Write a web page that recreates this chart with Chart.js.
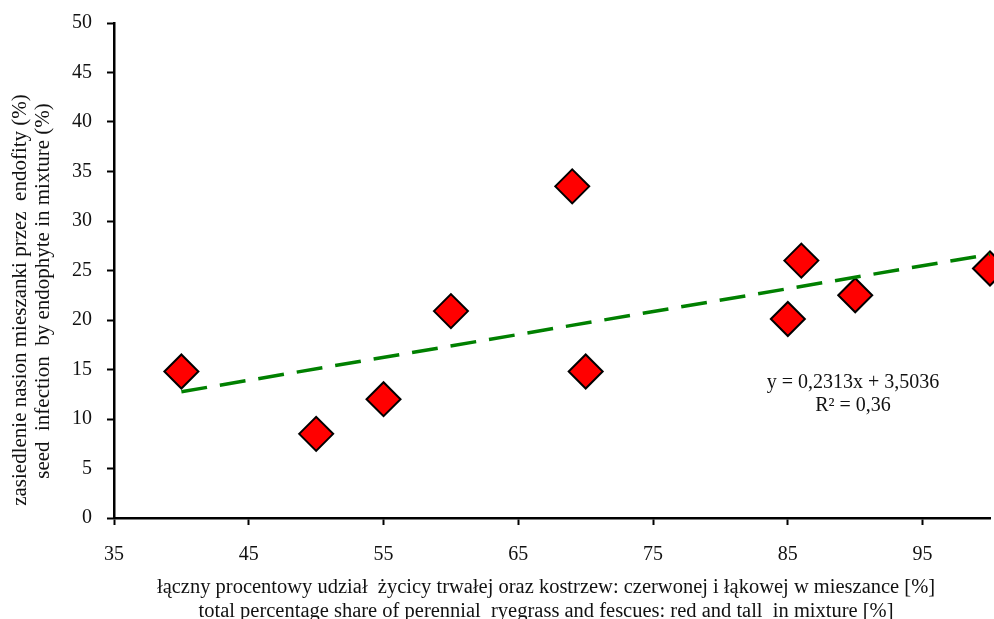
<!DOCTYPE html>
<html>
<head>
<meta charset="utf-8">
<script src="https://cdn.jsdelivr.net/npm/chart.js@4.4.1/dist/chart.umd.min.js"></script>
<style>
  html, body { margin: 0; padding: 0; background: #fff; }
  #wrap { width: 994px; height: 619px; }
</style>
</head>
<body>
<div id="wrap"><canvas id="chart" width="994" height="619"></canvas></div>
<script>
// share of ryegrass + fescues in the mixture (%)
const shareX = [40, 50, 55, 60, 69, 70, 85, 86, 90, 100];
// seed infection by endophyte (%)
const infectionY = [14.8, 8.5, 12.0, 20.9, 33.5, 14.8, 20.1, 26.0, 22.5, 25.2];

const xTickValues = [35, 45, 55, 65, 75, 85, 95];
const yTickValues = [0, 5, 10, 15, 20, 25, 30, 35, 40, 45, 50];

// linear trend as printed on the chart
const trendSlope = 0.2313;
const trendIntercept = 3.5036;
const trendRange = [40, 100];

const xTitleLines = [
    "łączny procentowy udział  życicy trwałej oraz kostrzew: czerwonej i łąkowej w mieszance [%]",
    "total percentage share of perennial  ryegrass and fescues: red and tall  in mixture [%]"
];
const yTitleLines = [
    "zasiedlenie nasion mieszanki przez  endofity (%)",
    "seed  infection  by endophyte in mixture (%)"
];
const equationLines = ["y = 0,2313x + 3,5036", "R² = 0,36"];

const FONT = '"Liberation Serif", "Times New Roman", serif';
const TEXT = '#111';

// axis titles + trend equation
const textPlugin = {
    id: 'texts',
    afterDraw(chart){
        const ctx = chart.ctx;
        ctx.save();
        ctx.fillStyle = TEXT;
        ctx.textAlign = 'center';
        ctx.textBaseline = 'alphabetic';

        ctx.font = '20.5px ' + FONT;
        ctx.fillText(xTitleLines[0], 546, 593);
        ctx.fillText(xTitleLines[1], 546, 617);

        ctx.font = '20px ' + FONT;
        ctx.fillText(equationLines[0], 853, 388);
        ctx.fillText(equationLines[1], 853, 411);

        ctx.font = '21px ' + FONT;
        ctx.save();
        ctx.translate(26, 300);
        ctx.rotate(-Math.PI / 2);
        ctx.fillText(yTitleLines[0], 0, 0);
        ctx.restore();

        ctx.save();
        ctx.translate(49, 291);
        ctx.rotate(-Math.PI / 2);
        ctx.fillText(yTitleLines[1], 0, 0);
        ctx.restore();

        ctx.restore();
    }
};

const points = shareX.map((x, i) => ({ x: x, y: infectionY[i] }));
const trend = trendRange.map(x => ({ x: x, y: trendSlope * x + trendIntercept }));

const axisCommon = {
    type: 'linear',
    grid: { display: true, drawOnChartArea: false, drawTicks: true, tickLength: 7, tickWidth: 2, tickColor: '#000' },
    border: { display: true, color: '#000', width: 2.5 },
};

new Chart(document.getElementById('chart').getContext('2d'), {
    type: 'scatter',
    data: {
        datasets: [
            {
                label: 'trend',
                type: 'line',
                data: trend,
                borderColor: '#008000',
                borderWidth: 3.5,
                borderDash: [26, 13],
                pointRadius: 0,
                fill: false,
                order: 0
            },
            {
                label: 'mixtures',
                data: points,
                pointStyle: 'rectRot',
                pointRadius: 17,
                pointHoverRadius: 17,
                backgroundColor: '#ff0000',
                borderColor: '#000',
                borderWidth: 2,
                clip: false,
                order: 1
            }
        ]
    },
    plugins: [textPlugin],
    options: {
        responsive: false,
        animation: false,
        layout: { autoPadding: false, padding: { top: 23, right: 4, left: 0, bottom: 0 } },
        plugins: { legend: { display: false }, tooltip: { enabled: false } },
        scales: {
            x: Object.assign({}, axisCommon, {
                min: 35, max: 100,
                afterBuildTicks: s => { s.ticks = xTickValues.map(v => ({ value: v })); },
                afterFit: s => { s.height = 101; s.paddingLeft = 0; s.paddingRight = 0; },
                ticks: { color: TEXT, font: { family: FONT, size: 20 }, padding: 18, maxRotation: 0, autoSkip: false }
            }),
            y: Object.assign({}, axisCommon, {
                min: 0, max: 50,
                afterBuildTicks: s => { s.ticks = yTickValues.map(v => ({ value: v })); },
                afterFit: s => { s.width = 114; s.paddingTop = 0; s.paddingBottom = 0; },
                ticks: { color: TEXT, font: { family: FONT, size: 20 }, padding: 15, autoSkip: false }
            })
        }
    }
});
</script>
</body>
</html>
